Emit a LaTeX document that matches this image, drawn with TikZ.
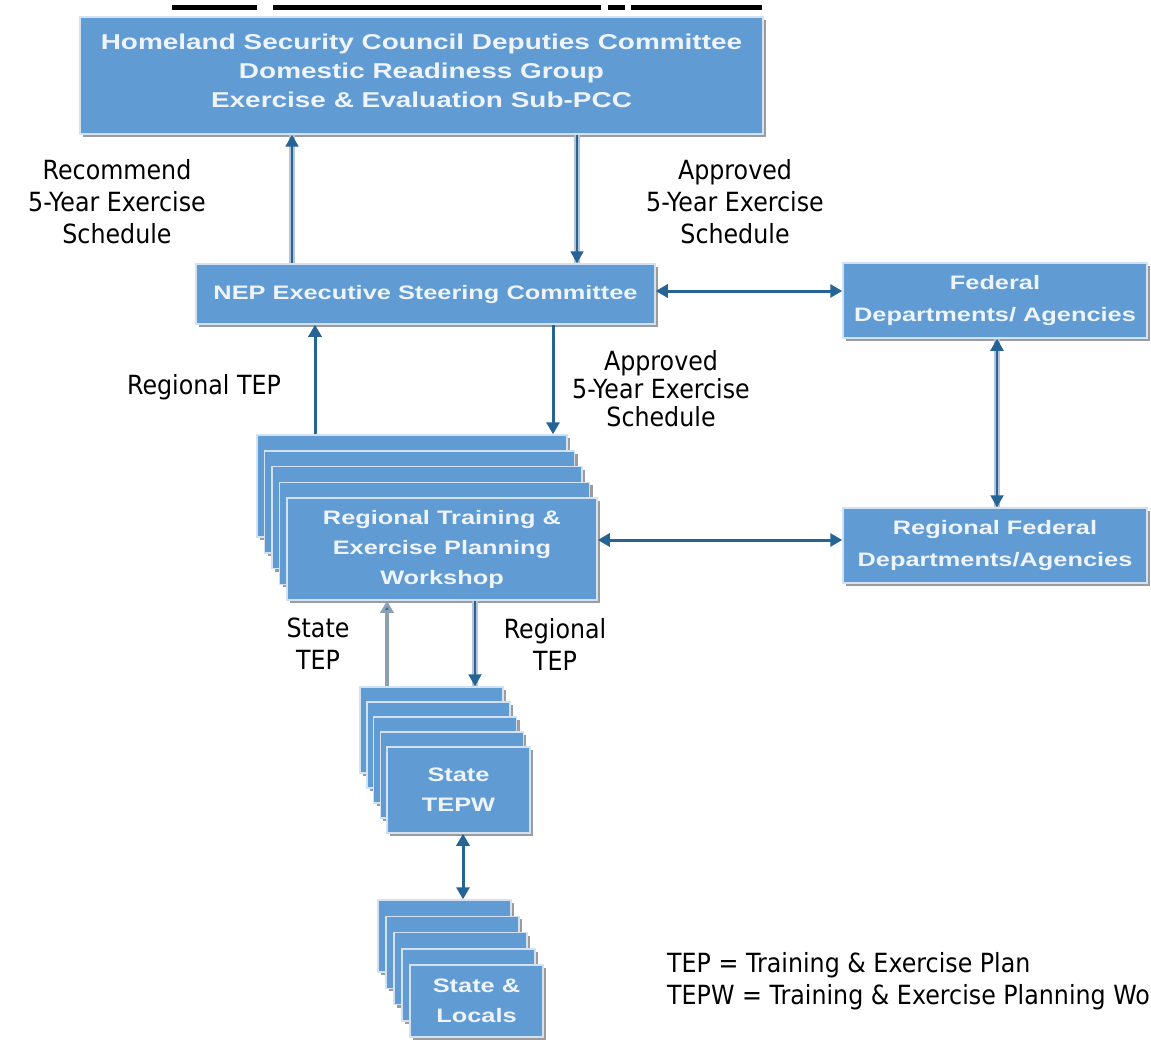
\documentclass[tikz,border=0pt]{standalone}
\usepackage{fontspec}
\setmainfont[FakeStretch=0.9]{DejaVu Sans}
\newfontfamily\boxfont[FakeStretch=1.3]{Liberation Sans}
\usetikzlibrary{shadows,arrows.meta,calc}
\definecolor{boxblue}{RGB}{96,155,212}
\definecolor{boxedge}{RGB}{210,226,242}
\definecolor{boxtext}{RGB}{238,244,250}
\definecolor{arrdark}{RGB}{38,100,150}
\definecolor{arrlight}{RGB}{178,196,214}
\definecolor{arrgray}{RGB}{140,160,180}
\tikzset{
  ahead/.tip={Triangle[length=12pt,width=13pt]},
  boxtxt/.style={text=boxtext, font=\boxfont\bfseries\fontsize{19.5}{30}\selectfont,
    align=center, inner sep=0pt},
  box/.style={boxtxt, rectangle, fill=boxblue, draw=boxedge, line width=1.5pt,
    drop shadow={shadow xshift=3pt, shadow yshift=-3pt, fill=black!55, opacity=.7}},
  layer/.style={box},
  lbl/.style={font=\fontsize{26.4}{32}\selectfont, align=center, text=black, inner sep=0pt},
  link/.style={draw=arrdark, line width=3pt},
  hollow/.style={draw=arrdark, line width=2pt, preaction={draw=arrlight, line width=6.5pt, arrows=-}},
  grayup/.style={draw=arrgray, line width=3.5pt},
}
\begin{document}
\begin{tikzpicture}[x=1pt,y=-1pt]
\useasboundingbox (0,0) rectangle (1151,1054);
\clip (0,0) rectangle (1151,1054);
\fill[white] (0,0) rectangle (1151,1054);

% black bars at top edge
\fill[black] (172,5) rectangle (257,10);
\fill[black] (273,5) rectangle (601,10);
\fill[black] (608,5) rectangle (625,10);
\fill[black] (631,5) rectangle (762,10);

% top box
\node[box, minimum width=683pt, minimum height=117pt] (hsc) at (421.5,75.5) {};
\node[boxtxt, font=\boxfont\bfseries\fontsize{21.5}{29}\selectfont] (hsct) at ([yshift=5pt]hsc.center)
  {Homeland Security Council Deputies Committee\\Domestic Readiness Group\\Exercise \& Evaluation Sub-PCC};

% NEP
\node[box, minimum width=459pt, minimum height=60pt] (nep) at (425.5,294)
  {NEP Executive Steering Committee};

% Federal
\node[box, minimum width=304pt, minimum height=75pt, font=\boxfont\bfseries\fontsize{19.5}{32}\selectfont] (fed) at (995,300.5)
  {Federal\\Departments/ Agencies};
\node[box, minimum width=304pt, minimum height=75pt, font=\boxfont\bfseries\fontsize{19.5}{32}\selectfont] (rfed) at (995,545.5)
  {Regional Federal\\Departments/Agencies};

% Regional TEPW stack
\foreach \k in {4,3,2,1}{
  \node[layer, minimum width=310pt, minimum height=102pt] (r\k) at ({442-7.5*\k},{549-15.75*\k}) {};
}
\node[box, minimum width=310pt, minimum height=102pt] (rt) at (442,549)
  {Regional Training \&\\Exercise Planning\\Workshop};

% State TEPW stack
\foreach \k in {4,3,2,1}{
  \node[layer, minimum width=143pt, minimum height=86pt] (s\k) at ({458.5-6.75*\k},{790-15*\k}) {};
}
\node[box, minimum width=143pt, minimum height=86pt] (st) at (458.5,790)
  {State\\TEPW};

% State & Locals stack
\foreach \k in {4,3,2,1}{
  \node[layer, minimum width=133pt, minimum height=72pt] (l\k) at ({476.5-8*\k},{1001-16.25*\k}) {};
}
\node[box, minimum width=133pt, minimum height=72pt] (sl) at (476.5,1001)
  {State \&\\Locals};

% connectors
\draw[hollow, -{ahead}] ([xshift=-133.5pt]nep.north) -- ([xshift=-133.5pt]nep.north |- hsc.south);
\draw[hollow, -{ahead}] ([xshift=151.5pt]nep.north |- hsc.south) -- ([xshift=151.5pt]nep.north);
\draw[link, {ahead}-{ahead}] ([yshift=3pt]nep.east) -- ([yshift=3pt]nep.east -| fed.west);
\draw[hollow, {ahead}-{ahead}] ([xshift=2pt]fed.south) -- ([xshift=2pt]rfed.north);
\draw[link, -{ahead}] ([xshift=-97pt]r4.north) -- ([xshift=-97pt]r4.north |- nep.south);
\draw[link, -{ahead}] ([xshift=141pt]r4.north |- nep.south) -- ([xshift=141pt]r4.north);
\draw[link, {ahead}-{ahead}] ([yshift=9pt]rt.east) -- ([yshift=9pt]rt.east -| rfed.west);
\draw[grayup, -{Triangle[length=12pt,width=13pt,fill=arrdark]}] ([xshift=-44.5pt]s4.north) -- ([xshift=-44.5pt]s4.north |- rt.south);
\draw[hollow, -{ahead}] ([xshift=43.5pt]s4.north |- rt.south) -- ([xshift=43.5pt]s4.north);
\draw[link, {ahead}-{ahead}] ([xshift=4.5pt]st.south) -- ([xshift=4.5pt]st.south |- l4.north);

% labels
\node[lbl] (lrec) at (117,202) {Recommend\\5-Year Exercise\\Schedule};
\node[lbl] (lapp1) at (735,202) {Approved\\5-Year Exercise\\Schedule};
\node[lbl] (lreg1) at (204,387) {Regional TEP};
\node[lbl, font=\fontsize{26.4}{28}\selectfont] (lapp2) at (661,389) {Approved\\5-Year Exercise\\Schedule};
\node[lbl] (lstate) at (318,644) {State\\TEP};
\node[lbl] (lreg2) at (555,644) {Regional\\TEP};
\node[lbl, anchor=west] (leg1) at (667,965) {TEP = Training \& Exercise Plan};
\node[lbl, anchor=west] (leg2) at (667,997) {TEPW = Training \& Exercise Planning Workshop};
\end{tikzpicture}
\end{document}
